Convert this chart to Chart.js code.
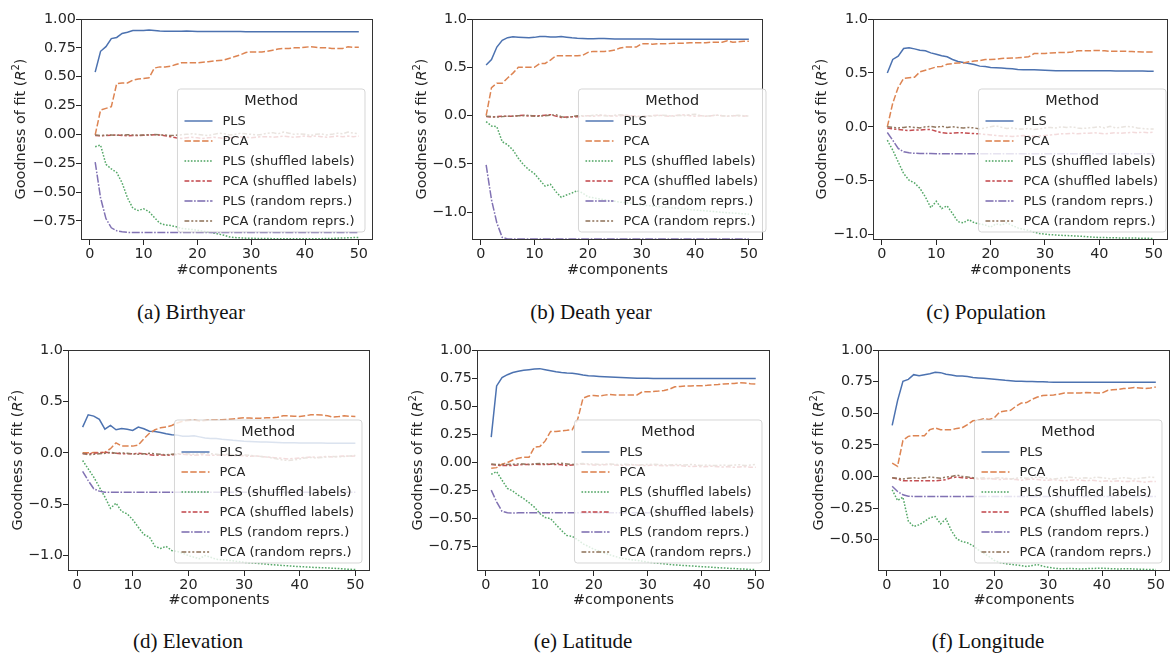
<!DOCTYPE html>
<html>
<head>
<meta charset="utf-8">
<script src="https://cdn.jsdelivr.net/npm/chart.js@4.4.1/dist/chart.umd.min.js"></script>
<style>
  html, body { margin: 0; padding: 0; background: #fff; }
  #fig { position: relative; width: 1174px; height: 655px; overflow: hidden; background: #fff; }
  #fig canvas { position: absolute; }
  .caption { position: absolute; width: 300px; margin-left: -150px; text-align: center;
             font-family: "Liberation Serif", "Times New Roman", serif; font-size: 21px; color: #111; line-height: 24px; }
</style>
</head>
<body>
<div id="fig">
  <canvas id="chartA"></canvas>
  <canvas id="chartB"></canvas>
  <canvas id="chartC"></canvas>
  <canvas id="chartD"></canvas>
  <canvas id="chartE"></canvas>
  <canvas id="chartF"></canvas>
</div>
<script>
// x values (number of components)
var components = [1, 2, 3, 4, 5, 6, 7, 8, 9, 10,
  11, 12, 13, 14, 15, 16, 17, 18, 19, 20,
  21, 22, 23, 24, 25, 26, 27, 28, 29, 30,
  31, 32, 33, 34, 35, 36, 37, 38, 39, 40,
  41, 42, 43, 44, 45, 46, 47, 48, 49, 50];

var xTicks = [0, 10, 20, 30, 40, 50];
var yTicksQuarter = [-0.75, -0.5, -0.25, 0, 0.25, 0.5, 0.75, 1];
var yTicksHalf = [-1, -0.5, 0, 0.5, 1];

var methodNames = ['PLS', 'PCA', 'PLS (shuffled labels)', 'PCA (shuffled labels)', 'PLS (random reprs.)', 'PCA (random reprs.)'];

// (a) Birthyear
var birthPLS = [0.54, 0.72, 0.76, 0.83, 0.84, 0.875, 0.885, 0.90, 0.90, 0.90,
  0.905, 0.90, 0.895, 0.893, 0.893, 0.893, 0.893, 0.895, 0.893, 0.892,
  0.892, 0.891, 0.891, 0.891, 0.891, 0.891, 0.891, 0.891, 0.890, 0.890,
  0.890, 0.890, 0.890, 0.890, 0.890, 0.890, 0.890, 0.890, 0.890, 0.890,
  0.890, 0.890, 0.890, 0.890, 0.890, 0.890, 0.890, 0.890, 0.890, 0.890];
var birthPCA = [-0.005, 0.21, 0.225, 0.24, 0.44, 0.445, 0.445, 0.47, 0.48, 0.485,
  0.49, 0.575, 0.585, 0.585, 0.59, 0.605, 0.62, 0.62, 0.62, 0.62,
  0.625, 0.63, 0.635, 0.64, 0.645, 0.66, 0.675, 0.69, 0.71, 0.715,
  0.715, 0.715, 0.72, 0.73, 0.74, 0.745, 0.745, 0.75, 0.75, 0.755,
  0.76, 0.755, 0.75, 0.75, 0.745, 0.745, 0.745, 0.76, 0.755, 0.755];
var birthPLSShuf = [-0.107, -0.093, -0.26, -0.30, -0.33, -0.42, -0.55, -0.64, -0.66, -0.645,
  -0.67, -0.72, -0.77, -0.785, -0.79, -0.80, -0.815, -0.82, -0.825, -0.83,
  -0.84, -0.845, -0.855, -0.865, -0.875, -0.89, -0.895, -0.897, -0.90, -0.90,
  -0.902, -0.903, -0.903, -0.904, -0.904, -0.905, -0.905, -0.905, -0.905, -0.905,
  -0.905, -0.905, -0.904, -0.903, -0.902, -0.90, -0.898, -0.897, -0.895, -0.893];
var birthPCAShuf = [-0.01, -0.012, -0.01, -0.008, -0.005, -0.01, -0.012, -0.01, -0.01, -0.008,
  -0.005, -0.004, -0.005, -0.012, -0.02, -0.03, -0.035, -0.03, -0.025, -0.03,
  -0.035, -0.03, -0.025, -0.03, -0.035, -0.03, -0.025, -0.02, -0.025, -0.03,
  -0.025, -0.02, -0.02, -0.025, -0.02, -0.015, -0.02, -0.025, -0.02, -0.015,
  -0.02, -0.015, -0.02, -0.025, -0.02, -0.015, -0.02, -0.015, -0.02, -0.015];
var birthPLSRand = [-0.24, -0.55, -0.73, -0.81, -0.835, -0.845, -0.85, -0.85, -0.85, -0.85,
  -0.85, -0.85, -0.85, -0.85, -0.85, -0.85, -0.85, -0.85, -0.85, -0.85,
  -0.85, -0.85, -0.85, -0.85, -0.85, -0.85, -0.85, -0.85, -0.85, -0.85,
  -0.85, -0.85, -0.85, -0.85, -0.85, -0.85, -0.85, -0.85, -0.85, -0.85,
  -0.85, -0.85, -0.85, -0.85, -0.85, -0.85, -0.85, -0.85, -0.85, -0.85];
var birthPCARand = [-0.005, -0.01, -0.008, -0.005, -0.008, -0.006, -0.004, -0.005, -0.008, -0.006,
  -0.004, -0.002, -0.004, -0.006, -0.01, -0.008, -0.004, 0.0, 0.005, 0.0,
  -0.005, -0.01, 0.0, 0.01, 0.005, -0.005, 0.0, 0.01, 0.005, 0.0,
  -0.005, 0.0, 0.01, 0.015, 0.005, 0.02, 0.01, 0.0, 0.005, 0.0,
  -0.01, 0.0, 0.005, -0.005, 0.0, 0.01, 0.005, 0.02, 0.01, 0.005];

// (b) Death year
var deathPLS = [0.524, 0.58, 0.71, 0.78, 0.807, 0.817, 0.812, 0.808, 0.805, 0.81,
  0.82, 0.818, 0.815, 0.815, 0.818, 0.812, 0.805, 0.80, 0.798, 0.795,
  0.795, 0.797, 0.797, 0.795, 0.793, 0.792, 0.792, 0.792, 0.792, 0.792,
  0.792, 0.792, 0.791, 0.791, 0.791, 0.791, 0.791, 0.791, 0.791, 0.791,
  0.79, 0.79, 0.79, 0.79, 0.79, 0.79, 0.79, 0.79, 0.79, 0.79];
var deathPCA = [0.0, 0.29, 0.335, 0.335, 0.39, 0.44, 0.50, 0.50, 0.50, 0.50,
  0.54, 0.54, 0.575, 0.62, 0.62, 0.62, 0.62, 0.62, 0.625, 0.655,
  0.665, 0.665, 0.665, 0.67, 0.68, 0.70, 0.71, 0.71, 0.71, 0.745,
  0.745, 0.74, 0.745, 0.745, 0.745, 0.75, 0.75, 0.75, 0.755, 0.755,
  0.755, 0.755, 0.76, 0.76, 0.76, 0.775, 0.76, 0.765, 0.77, 0.77];
var deathPLSShuf = [-0.062, -0.107, -0.114, -0.27, -0.30, -0.355, -0.44, -0.51, -0.56, -0.60,
  -0.665, -0.73, -0.71, -0.786, -0.845, -0.82, -0.80, -0.776, -0.80, -0.84,
  -0.85, -0.86, -0.87, -0.88, -0.885, -0.895, -0.90, -0.905, -0.915, -0.924,
  -0.93, -0.935, -0.94, -0.945, -0.95, -0.955, -0.96, -0.965, -0.97, -0.976,
  -0.98, -0.985, -0.99, -0.995, -1.0, -1.005, -1.008, -1.012, -1.015, -1.02];
var deathPCAShuf = [-0.01, -0.015, -0.01, -0.005, -0.005, -0.005, 0.0, 0.005, -0.005, 0.0,
  0.0, 0.005, 0.01, -0.005, -0.02, -0.015, -0.01, -0.01, -0.005, 0.0,
  -0.005, 0.0, 0.005, 0.0, -0.005, 0.0, 0.005, 0.0, -0.005, -0.01,
  -0.005, 0.0, 0.005, 0.0, -0.005, 0.0, 0.005, 0.01, 0.0, -0.005,
  0.0, -0.005, 0.0, 0.005, 0.0, -0.005, 0.0, 0.0, -0.005, 0.0];
var deathPLSRand = [-0.51, -0.87, -1.11, -1.26, -1.275, -1.275, -1.275, -1.275, -1.275, -1.275,
  -1.275, -1.275, -1.275, -1.275, -1.275, -1.275, -1.275, -1.275, -1.275, -1.275,
  -1.275, -1.275, -1.275, -1.275, -1.275, -1.275, -1.275, -1.275, -1.275, -1.275,
  -1.275, -1.275, -1.275, -1.275, -1.275, -1.275, -1.275, -1.275, -1.275, -1.275,
  -1.275, -1.275, -1.275, -1.275, -1.275, -1.275, -1.275, -1.275, -1.275, -1.275];
var deathPCARand = [-0.005, -0.01, -0.015, -0.01, -0.005, -0.005, 0.0, 0.0, 0.005, -0.005,
  -0.005, 0.0, 0.005, 0.01, -0.01, -0.02, -0.01, 0.0, 0.0, -0.005,
  0.005, 0.01, 0.0, -0.005, 0.005, 0.01, 0.005, -0.005, -0.01, -0.01,
  0.0, -0.005, 0.0, 0.005, 0.0, -0.005, 0.005, 0.0, 0.01, 0.015,
  0.0, -0.005, 0.0, 0.005, 0.0, -0.005, 0.0, 0.005, 0.0, -0.005];

// (c) Population
var popPLS = [0.50, 0.625, 0.655, 0.726, 0.733, 0.723, 0.71, 0.705, 0.686, 0.674,
  0.66, 0.65, 0.625, 0.606, 0.597, 0.587, 0.578, 0.563, 0.56, 0.55,
  0.548, 0.545, 0.542, 0.538, 0.532, 0.53, 0.53, 0.53, 0.528, 0.525,
  0.522, 0.52, 0.52, 0.52, 0.52, 0.52, 0.52, 0.52, 0.52, 0.52,
  0.52, 0.52, 0.518, 0.518, 0.518, 0.518, 0.517, 0.517, 0.516, 0.516];
var popPCA = [0.0, 0.22, 0.365, 0.45, 0.455, 0.46, 0.51, 0.525, 0.54, 0.556,
  0.56, 0.58, 0.587, 0.593, 0.593, 0.603, 0.61, 0.615, 0.624, 0.624,
  0.628, 0.634, 0.636, 0.638, 0.64, 0.645, 0.65, 0.68, 0.68, 0.68,
  0.685, 0.688, 0.69, 0.69, 0.695, 0.705, 0.705, 0.705, 0.707, 0.708,
  0.705, 0.70, 0.70, 0.70, 0.70, 0.698, 0.697, 0.695, 0.694, 0.693];
var popPLSShuf = [-0.124, -0.216, -0.325, -0.433, -0.495, -0.52, -0.57, -0.65, -0.75, -0.69,
  -0.757, -0.733, -0.804, -0.88, -0.89, -0.86, -0.89, -0.90, -0.91, -0.93,
  -0.90, -0.91, -0.89, -0.915, -0.937, -0.95, -0.96, -0.975, -0.99, -0.995,
  -1.0, -1.003, -1.006, -1.008, -1.01, -1.013, -1.016, -1.02, -1.023, -1.026,
  -1.027, -1.028, -1.029, -1.03, -1.03, -1.031, -1.032, -1.033, -1.034, -1.035];
var popPCAShuf = [-0.01, -0.02, -0.025, -0.03, -0.035, -0.03, -0.03, -0.025, -0.025, -0.04,
  -0.055, -0.06, -0.058, -0.055, -0.055, -0.06, -0.062, -0.065, -0.07, -0.075,
  -0.08, -0.085, -0.085, -0.09, -0.085, -0.08, -0.085, -0.09, -0.085, -0.08,
  -0.075, -0.07, -0.065, -0.065, -0.06, -0.065, -0.06, -0.06, -0.055, -0.06,
  -0.065, -0.06, -0.055, -0.06, -0.055, -0.05, -0.055, -0.05, -0.055, -0.05];
var popPLSRand = [-0.053, -0.124, -0.20, -0.232, -0.241, -0.245, -0.247, -0.248, -0.248, -0.249,
  -0.249, -0.25, -0.25, -0.25, -0.25, -0.25, -0.25, -0.25, -0.25, -0.25,
  -0.25, -0.25, -0.25, -0.25, -0.25, -0.25, -0.25, -0.25, -0.25, -0.25,
  -0.25, -0.25, -0.25, -0.25, -0.25, -0.25, -0.25, -0.25, -0.25, -0.25,
  -0.25, -0.25, -0.25, -0.25, -0.25, -0.25, -0.25, -0.25, -0.25, -0.25];
var popPCARand = [0.0, -0.005, -0.01, -0.005, 0.0, -0.005, -0.01, 0.0, 0.005, -0.005,
  0.005, -0.005, 0.0, -0.005, -0.01, -0.005, -0.01, -0.02, -0.01, 0.0,
  0.01, -0.005, -0.015, -0.01, -0.02, -0.02, -0.015, -0.025, -0.02, -0.01,
  -0.005, -0.01, 0.0, -0.005, 0.0, -0.01, -0.015, -0.01, -0.005, 0.0,
  -0.01, 0.005, -0.01, -0.005, 0.005, 0.0, -0.01, -0.015, -0.02, -0.02];

// (d) Elevation
var elevPLS = [0.25, 0.37, 0.357, 0.325, 0.23, 0.266, 0.224, 0.237, 0.23, 0.218,
  0.25, 0.234, 0.21, 0.208, 0.198, 0.185, 0.175, 0.172, 0.16, 0.16,
  0.165, 0.155, 0.145, 0.14, 0.138, 0.132, 0.128, 0.122, 0.118, 0.113,
  0.11, 0.108, 0.106, 0.104, 0.102, 0.10, 0.099, 0.098, 0.097, 0.096,
  0.096, 0.095, 0.095, 0.095, 0.094, 0.094, 0.094, 0.094, 0.094, 0.094];
var elevPCA = [0.0, 0.0, 0.002, 0.003, 0.006, 0.04, 0.097, 0.065, 0.065, 0.065,
  0.075, 0.136, 0.19, 0.224, 0.243, 0.25, 0.266, 0.29, 0.308, 0.315,
  0.318, 0.31, 0.315, 0.32, 0.32, 0.322, 0.325, 0.33, 0.335, 0.34,
  0.338, 0.335, 0.337, 0.34, 0.34, 0.345, 0.36, 0.36, 0.355, 0.354,
  0.36, 0.37, 0.37, 0.367, 0.36, 0.347, 0.352, 0.36, 0.356, 0.354];
var elevPLSShuf = [-0.075, -0.156, -0.237, -0.334, -0.43, -0.54, -0.49, -0.57, -0.594, -0.65,
  -0.724, -0.795, -0.82, -0.91, -0.93, -0.91, -0.95, -0.96, -0.977, -1.0,
  -1.016, -1.03, -1.0, -1.016, -1.036, -1.04, -1.045, -1.05, -1.058, -1.065,
  -1.07, -1.074, -1.078, -1.083, -1.088, -1.092, -1.096, -1.10, -1.104, -1.107,
  -1.11, -1.113, -1.116, -1.118, -1.12, -1.123, -1.126, -1.13, -1.133, -1.136];
var elevPCAShuf = [-0.01, -0.01, -0.005, 0.0, 0.005, 0.0, -0.005, -0.01, -0.01, -0.01,
  -0.005, -0.01, -0.02, -0.025, -0.02, -0.025, -0.02, -0.015, -0.015, -0.02,
  -0.025, -0.02, -0.02, -0.025, -0.025, -0.02, -0.025, -0.03, -0.025, -0.03,
  -0.035, -0.03, -0.035, -0.04, -0.045, -0.05, -0.055, -0.06, -0.055, -0.05,
  -0.045, -0.04, -0.045, -0.04, -0.035, -0.04, -0.035, -0.03, -0.035, -0.03];
var elevPLSRand = [-0.18, -0.27, -0.35, -0.373, -0.383, -0.383, -0.384, -0.384, -0.384, -0.384,
  -0.384, -0.384, -0.384, -0.384, -0.384, -0.384, -0.384, -0.384, -0.384, -0.384,
  -0.384, -0.384, -0.384, -0.384, -0.384, -0.384, -0.384, -0.384, -0.384, -0.384,
  -0.384, -0.384, -0.384, -0.384, -0.384, -0.384, -0.384, -0.384, -0.384, -0.384,
  -0.384, -0.384, -0.384, -0.384, -0.384, -0.384, -0.384, -0.384, -0.384, -0.384];
var elevPCARand = [-0.005, -0.02, -0.015, -0.01, -0.005, 0.005, -0.005, 0.0, -0.005, -0.01,
  -0.015, -0.01, -0.005, -0.01, -0.015, -0.02, -0.015, -0.01, -0.005, -0.01,
  -0.015, -0.01, -0.005, -0.01, -0.015, -0.02, -0.015, -0.02, -0.025, -0.02,
  -0.025, -0.03, -0.035, -0.04, -0.05, -0.06, -0.07, -0.075, -0.07, -0.06,
  -0.05, -0.045, -0.05, -0.045, -0.04, -0.035, -0.04, -0.035, -0.03, -0.025];

// (e) Latitude
var latPLS = [0.224, 0.68, 0.754, 0.78, 0.80, 0.81, 0.82, 0.825, 0.83, 0.834,
  0.825, 0.816, 0.807, 0.80, 0.795, 0.792, 0.786, 0.777, 0.77, 0.768,
  0.765, 0.762, 0.76, 0.757, 0.754, 0.752, 0.75, 0.748, 0.748, 0.748,
  0.747, 0.747, 0.746, 0.746, 0.746, 0.746, 0.745, 0.745, 0.745, 0.745,
  0.745, 0.745, 0.745, 0.745, 0.745, 0.745, 0.745, 0.745, 0.745, 0.745];
var latPCA = [-0.054, -0.048, -0.018, -0.003, 0.02, 0.036, 0.045, 0.045, 0.135, 0.14,
  0.19, 0.275, 0.275, 0.28, 0.284, 0.29, 0.38, 0.57, 0.59, 0.595,
  0.59, 0.598, 0.604, 0.60, 0.60, 0.598, 0.598, 0.60, 0.628, 0.628,
  0.63, 0.634, 0.64, 0.65, 0.673, 0.675, 0.68, 0.68, 0.682, 0.682,
  0.685, 0.69, 0.692, 0.697, 0.70, 0.702, 0.709, 0.705, 0.70, 0.697];
var latPLSShuf = [-0.107, -0.084, -0.16, -0.233, -0.257, -0.293, -0.323, -0.36, -0.40, -0.457,
  -0.493, -0.502, -0.556, -0.607, -0.652, -0.66, -0.69, -0.727, -0.75, -0.775,
  -0.79, -0.81, -0.825, -0.84, -0.855, -0.862, -0.868, -0.875, -0.882, -0.89,
  -0.895, -0.90, -0.905, -0.91, -0.915, -0.918, -0.921, -0.924, -0.927, -0.93,
  -0.933, -0.936, -0.939, -0.942, -0.945, -0.947, -0.95, -0.952, -0.955, -0.957];
var latPCAShuf = [-0.02, -0.025, -0.03, -0.03, -0.028, -0.025, -0.02, -0.02, -0.018, -0.02,
  -0.02, -0.018, -0.02, -0.022, -0.03, -0.025, -0.02, -0.018, -0.02, -0.025,
  -0.025, -0.022, -0.02, -0.025, -0.028, -0.025, -0.022, -0.025, -0.03, -0.028,
  -0.025, -0.03, -0.032, -0.03, -0.028, -0.03, -0.035, -0.038, -0.035, -0.04,
  -0.038, -0.035, -0.04, -0.042, -0.04, -0.045, -0.042, -0.04, -0.045, -0.045];
var latPLSRand = [-0.248, -0.353, -0.437, -0.45, -0.452, -0.451, -0.45, -0.45, -0.45, -0.45,
  -0.45, -0.45, -0.45, -0.45, -0.45, -0.45, -0.45, -0.45, -0.45, -0.45,
  -0.449, -0.449, -0.449, -0.449, -0.449, -0.449, -0.449, -0.449, -0.449, -0.449,
  -0.448, -0.448, -0.448, -0.448, -0.448, -0.448, -0.448, -0.448, -0.448, -0.448,
  -0.448, -0.448, -0.448, -0.448, -0.448, -0.448, -0.448, -0.448, -0.448, -0.448];
var latPCARand = [-0.015, -0.02, -0.02, -0.02, -0.018, -0.015, -0.015, -0.02, -0.015, -0.012,
  -0.015, -0.015, -0.012, -0.01, -0.015, -0.02, -0.015, -0.012, -0.015, -0.015,
  -0.02, -0.018, -0.015, -0.02, -0.02, -0.018, -0.02, -0.025, -0.022, -0.02,
  -0.018, -0.02, -0.022, -0.025, -0.02, -0.022, -0.025, -0.02, -0.025, -0.028,
  -0.025, -0.03, -0.028, -0.025, -0.03, -0.025, -0.022, -0.03, -0.025, -0.02];

// (f) Longitude
var lonPLS = [0.404, 0.60, 0.753, 0.768, 0.805, 0.797, 0.805, 0.813, 0.824, 0.821,
  0.808, 0.803, 0.795, 0.795, 0.79, 0.782, 0.779, 0.776, 0.772, 0.768,
  0.764, 0.76, 0.757, 0.753, 0.752, 0.751, 0.75, 0.749, 0.748, 0.746,
  0.745, 0.745, 0.745, 0.745, 0.745, 0.745, 0.745, 0.745, 0.745, 0.745,
  0.745, 0.745, 0.745, 0.745, 0.745, 0.745, 0.745, 0.745, 0.745, 0.745];
var lonPCA = [0.106, 0.08, 0.285, 0.317, 0.322, 0.322, 0.322, 0.37, 0.383, 0.37,
  0.37, 0.37, 0.38, 0.385, 0.41, 0.44, 0.444, 0.457, 0.45, 0.465,
  0.51, 0.518, 0.523, 0.555, 0.58, 0.584, 0.61, 0.628, 0.64, 0.642,
  0.645, 0.65, 0.66, 0.66, 0.66, 0.66, 0.663, 0.662, 0.66, 0.66,
  0.68, 0.685, 0.688, 0.695, 0.698, 0.703, 0.70, 0.695, 0.70, 0.708];
var lonPLSShuf = [-0.106, -0.19, -0.164, -0.354, -0.396, -0.383, -0.356, -0.327, -0.317, -0.375,
  -0.335, -0.428, -0.494, -0.515, -0.525, -0.547, -0.58, -0.607, -0.634, -0.665,
  -0.68, -0.69, -0.695, -0.70, -0.705, -0.713, -0.705, -0.697, -0.71, -0.718,
  -0.725, -0.73, -0.73, -0.728, -0.73, -0.732, -0.73, -0.728, -0.727, -0.726,
  -0.728, -0.73, -0.732, -0.73, -0.73, -0.732, -0.734, -0.735, -0.736, -0.737];
var lonPCAShuf = [-0.01, -0.02, -0.035, -0.035, -0.035, -0.035, -0.035, -0.035, -0.035, -0.03,
  -0.025, -0.01, -0.005, -0.01, -0.015, -0.015, -0.02, -0.02, -0.015, -0.02,
  -0.025, -0.02, -0.02, -0.025, -0.03, -0.025, -0.02, -0.025, -0.03, -0.03,
  -0.025, -0.03, -0.035, -0.03, -0.025, -0.03, -0.035, -0.03, -0.035, -0.04,
  -0.035, -0.04, -0.035, -0.04, -0.04, -0.035, -0.04, -0.045, -0.04, -0.04];
var lonPLSRand = [-0.077, -0.119, -0.145, -0.156, -0.158, -0.158, -0.158, -0.158, -0.158, -0.158,
  -0.158, -0.158, -0.158, -0.158, -0.158, -0.158, -0.158, -0.158, -0.158, -0.158,
  -0.158, -0.158, -0.158, -0.158, -0.158, -0.158, -0.158, -0.158, -0.158, -0.158,
  -0.158, -0.158, -0.158, -0.158, -0.158, -0.158, -0.158, -0.158, -0.158, -0.158,
  -0.158, -0.158, -0.158, -0.158, -0.158, -0.158, -0.158, -0.158, -0.158, -0.158];
var lonPCARand = [-0.01, -0.015, -0.02, -0.015, -0.01, -0.015, -0.01, -0.005, -0.01, -0.015,
  -0.005, 0.0, 0.01, 0.0, -0.005, -0.01, -0.015, -0.01, -0.02, -0.015,
  -0.01, -0.015, -0.02, -0.015, -0.01, -0.015, -0.01, -0.005, -0.01, -0.015,
  -0.02, -0.015, -0.01, -0.005, -0.01, -0.015, -0.01, -0.015, -0.005, -0.01,
  -0.015, -0.02, -0.015, -0.01, -0.015, -0.02, -0.015, -0.01, -0.005, -0.01];

// styles (seaborn "deep" palette, seaborn default dashes)
var methodColors = ['#4c72b0', '#dd8452', '#55a868', '#c44e52', '#8172b3', '#937860'];
var methodDashes = [[], [6.4, 2.4], [1.6, 1.6], [4.8, 2, 2.4, 2], [8, 1.6, 1.6, 1.6], [4.8, 2, 2, 2, 2, 2]];

var panels = [
  { id: 'chartA', caption: '(a) Birthyear', yMin: -0.907, yTicks: yTicksQuarter, dec: 2,
    series: [birthPLS, birthPCA, birthPLSShuf, birthPCAShuf, birthPLSRand, birthPCARand],
    frame: { l: 82, t: 19, r: 372, b: 239, yTitleX: 21, xTitleY: 270, capX: 191, capY: 312, legendDx: 0 } },
  { id: 'chartB', caption: '(b) Death year', yMin: -1.276, yTicks: yTicksHalf, dec: 1,
    series: [deathPLS, deathPCA, deathPLSShuf, deathPCAShuf, deathPLSRand, deathPCARand],
    frame: { l: 473, t: 19, r: 762, b: 239, yTitleX: 422, xTitleY: 270, capX: 591, capY: 312, legendDx: 11 } },
  { id: 'chartC', caption: '(c) Population', yMin: -1.04, yTicks: yTicksHalf, dec: 1,
    series: [popPLS, popPCA, popPLSShuf, popPCAShuf, popPLSRand, popPCARand],
    frame: { l: 874, t: 19, r: 1167, b: 239, yTitleX: 822, xTitleY: 270, capX: 986, capY: 312, legendDx: 6 } },
  { id: 'chartD', caption: '(d) Elevation', yMin: -1.14, yTicks: yTicksHalf, dec: 1,
    series: [elevPLS, elevPCA, elevPLSShuf, elevPCAShuf, elevPLSRand, elevPCARand],
    frame: { l: 69, t: 350, r: 369, b: 570, yTitleX: 18, xTitleY: 600, capX: 188, capY: 641, legendDx: 0 } },
  { id: 'chartE', caption: '(e) Latitude', yMin: -0.96, yTicks: yTicksQuarter, dec: 2,
    series: [latPLS, latPCA, latPLSShuf, latPCAShuf, latPLSRand, latPCARand],
    frame: { l: 478, t: 350, r: 769, b: 570, yTitleX: 418, xTitleY: 600, capX: 583, capY: 641, legendDx: 0 } },
  { id: 'chartF', caption: '(f) Longitude', yMin: -0.74, yTicks: yTicksQuarter, dec: 2,
    series: [lonPLS, lonPCA, lonPLSShuf, lonPCAShuf, lonPLSRand, lonPCARand],
    frame: { l: 879, t: 350, r: 1169, b: 570, yTitleX: 819, xTitleY: 600, capX: 988, capY: 641, legendDx: 0 } }
];

var ink = '#262626';
var sans = 'DejaVu Sans';

// full box around the plot area (matplotlib spines)
var frameBox = {
  id: 'frameBox',
  afterDatasetsDraw: function(chart) {
    var a = chart.chartArea, ctx = chart.ctx;
    ctx.save();
    ctx.strokeStyle = '#333333';
    ctx.lineWidth = 1;
    ctx.strokeRect(Math.round(a.left) - 0.5, Math.round(a.top) + 0.5,
      Math.round(a.right) - Math.round(a.left) + 1, Math.round(a.bottom) - Math.round(a.top));
    ctx.restore();
  }
};

// y axis title with an italic R and a raised 2
var yTitle = {
  id: 'yTitle',
  afterDraw: function(chart, args, opts) {
    var a = chart.chartArea, ctx = chart.ctx;
    var big = '14.4px "' + sans + '"', ital = 'italic 14.4px "' + sans + '"', small = '10px "' + sans + '"';
    var parts = [['Goodness of fit (', big, 0], ['R', ital, 0], ['2', small, -5], [')', big, 0]];
    ctx.save();
    var total = 0;
    parts.forEach(function(pt) { ctx.font = pt[1]; total += ctx.measureText(pt[0]).width; });
    ctx.translate(opts.x, (a.top + a.bottom) / 2);
    ctx.rotate(-Math.PI / 2);
    ctx.fillStyle = ink;
    ctx.textBaseline = 'middle';
    ctx.textAlign = 'left';
    var cx = -total / 2;
    parts.forEach(function(pt) {
      ctx.font = pt[1];
      ctx.fillText(pt[0], cx, pt[2]);
      cx += ctx.measureText(pt[0]).width;
    });
    ctx.restore();
  }
};

// legend box in the lower right corner, like matplotlib's
var boxLegend = {
  id: 'boxLegend',
  afterDraw: function(chart, args, opts) {
    var a = chart.chartArea, ctx = chart.ctx;
    var sets = chart.data.datasets;
    ctx.save();
    ctx.font = '13px "' + sans + '"';
    var tw = 0;
    sets.forEach(function(d) { tw = Math.max(tw, ctx.measureText(d.label).width); });
    var w = 45 + tw + 8, h = 143;
    var x = a.right - 7 - w + (opts.dx || 0), y = a.bottom - 7 - h;
    var rr = 3;
    ctx.beginPath();
    ctx.moveTo(x + rr, y);
    ctx.lineTo(x + w - rr, y); ctx.quadraticCurveTo(x + w, y, x + w, y + rr);
    ctx.lineTo(x + w, y + h - rr); ctx.quadraticCurveTo(x + w, y + h, x + w - rr, y + h);
    ctx.lineTo(x + rr, y + h); ctx.quadraticCurveTo(x, y + h, x, y + h - rr);
    ctx.lineTo(x, y + rr); ctx.quadraticCurveTo(x, y, x + rr, y);
    ctx.closePath();
    ctx.fillStyle = 'rgba(255,255,255,0.8)';
    ctx.fill();
    ctx.strokeStyle = 'rgba(204,204,204,0.8)';
    ctx.lineWidth = 1;
    ctx.stroke();

    ctx.fillStyle = ink;
    ctx.textBaseline = 'middle';
    ctx.textAlign = 'center';
    ctx.font = '14.4px "' + sans + '"';
    ctx.fillText('Method', x + w / 2, y + 12);
    ctx.textAlign = 'left';
    ctx.font = '13px "' + sans + '"';
    sets.forEach(function(d, i) {
      var ly = y + 32 + 20 * i;
      ctx.save();
      ctx.globalAlpha = 0.8;
      ctx.strokeStyle = d.borderColor;
      ctx.lineWidth = 1.8;
      ctx.setLineDash(d.borderDash);
      ctx.beginPath();
      ctx.moveTo(x + 7, ly);
      ctx.lineTo(x + 35, ly);
      ctx.stroke();
      ctx.restore();
      ctx.fillText(d.label, x + 45, ly + 0.5);
    });
    ctx.restore();
  }
};

function fmt(v, dec) {
  return Number(v).toFixed(dec).replace('-', '\u2212');
}

var fig = document.getElementById('fig');

panels.forEach(function(p) {
  var g = p.frame;
  var canvas = document.getElementById(p.id);
  var left = Math.round(g.yTitleX - 13);
  var top = g.t - 10;
  var width = g.r + 8 - left;
  var xh = Math.round(g.xTitleY + 12.6 - g.b);
  var height = g.b + xh - top;
  canvas.width = width; canvas.height = height;
  canvas.style.width = width + 'px'; canvas.style.height = height + 'px';
  canvas.style.left = left + 'px'; canvas.style.top = top + 'px';

  var cap = document.createElement('div');
  cap.className = 'caption';
  cap.textContent = p.caption;
  cap.style.left = g.capX + 'px';
  cap.style.top = (g.capY - 12) + 'px';
  fig.appendChild(cap);

  var datasets = p.series.map(function(vals, i) {
    return {
      label: methodNames[i],
      data: vals,
      borderColor: methodColors[i],
      backgroundColor: methodColors[i],
      borderDash: methodDashes[i],
      borderWidth: 1.5,
      pointRadius: 0,
      tension: 0,
      fill: false,
      order: 5 - i
    };
  });

  new Chart(canvas.getContext('2d'), {
    type: 'line',
    data: { labels: components, datasets: datasets },
    plugins: [frameBox, boxLegend, yTitle],
    options: {
      responsive: false,
      animation: false,
      layout: { padding: { left: 0, top: 10, right: 8, bottom: 0 } },
      plugins: {
        legend: { display: false },
        tooltip: { enabled: false },
        boxLegend: { dx: g.legendDx },
        yTitle: { x: g.yTitleX - left }
      },
      scales: {
        x: {
          type: 'linear',
          min: -1.45,
          max: 52.45,
          afterBuildTicks: function(scale) { scale.ticks = xTicks.map(function(v) { return { value: v }; }); },
          afterFit: function(scale) { scale.height = xh; },
          grid: { display: true, drawOnChartArea: false, drawTicks: true, tickLength: 6, color: ink, lineWidth: 1 },
          border: { display: false },
          ticks: { color: ink, font: { family: sans, size: 14.4 }, padding: 1, maxRotation: 0,
                   callback: function(v) { return String(v); } },
          title: { display: true, text: '#components', color: ink, font: { family: sans, size: 14.4 }, padding: { top: 4, bottom: 4 } }
        },
        y: {
          type: 'linear',
          min: p.yMin,
          max: 1,
          afterBuildTicks: function(scale) {
            scale.ticks = p.yTicks.filter(function(v) { return v >= p.yMin && v <= 1; })
              .map(function(v) { return { value: v }; });
          },
          afterFit: function(scale) { scale.width = g.l - left; },
          grid: { display: true, drawOnChartArea: false, drawTicks: true, tickLength: 6, color: ink, lineWidth: 1 },
          border: { display: false },
          ticks: { color: ink, font: { family: sans, size: 14.4 }, padding: 0,
                   callback: function(v) { return fmt(v, p.dec); } },
          title: { display: false }
        }
      }
    }
  });
});
</script>
</body>
</html>
